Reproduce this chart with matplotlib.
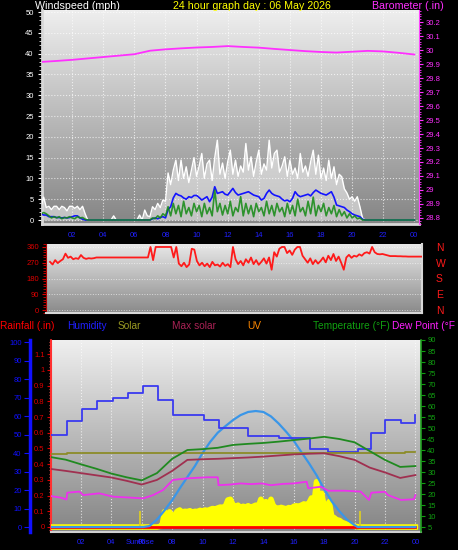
import numpy as np
import matplotlib
matplotlib.use("Agg")
import matplotlib.pyplot as plt
import matplotlib.ticker as ticker
from matplotlib.colors import LinearSegmentedColormap

plt.rcParams['font.family'] = ['Liberation Sans', 'DejaVu Sans']

# ---------------- data ----------------
hour_ticks = list(range(2, 25, 2))
hour_labels = ['02', '04', '06', '08', '10', '12', '14', '16', '18', '20', '22', '00']

# wind, 10 minute readings (mph)
gust = [3.3, 5.5, 3.0, 3.3, 2.5, 3.3,
        3.3, 2.5, 3.3, 3.0, 2.2, 3.3,
        3.3, 2.8, 3.3, 2.5, 3.3, 1.5,
        0, 0, 0, 0, 0, 0,
        0, 0, 0, 0, 1.0, 0,
        0, 0, 0, 0, 0, 0,
        0, 0, 1.2, 0, 2.4, 1.0,
        0.8, 3.2, 2.5, 4.0, 3.0, 4.8,
        4.5, 11.3, 8.5, 12.0, 14.4, 9.5,
        14.4, 10.0, 12.8, 9.0, 12.0, 15.0,
        10.5, 13.0, 16.0, 10.0, 13.5, 14.4,
        9.5, 15.0, 19.2, 11.0, 13.7, 10.0,
        14.0, 16.8, 11.0, 14.4, 10.5, 13.0,
        11.5, 18.4, 12.0, 15.2, 10.5, 14.0,
        16.8, 11.0, 13.5, 12.0, 19.2, 12.5,
        16.0, 16.8, 11.5, 13.0, 15.2, 10.5,
        14.4, 11.0, 12.5, 10.0, 16.0, 11.5,
        13.0, 10.5, 14.0, 16.8, 11.0, 15.6,
        10.0, 12.5, 9.5, 14.4, 10.0, 12.8,
        8.5, 11.0, 10.4, 7.5, 6.5, 5.0,
        5.6, 4.5, 5.6, 3.2, 0.5, 0,
        0, 0, 0, 0, 0, 0,
        0, 0, 0, 0, 0, 0,
        0, 0, 0, 0, 0, 0,
        0]
speed = [1.5, 1.8, 1.5, 1.0, 0.5, 0.8,
         0.5, 0.8, 0.3, 0.6, 0.5, 0.8,
         0.5, 0.3, 0.8, 0.5, 0.6, 0.2,
         0, 0, 0, 0, 0, 0,
         0, 0, 0, 0, 0, 0,
         0, 0, 0, 0, 0, 0,
         0, 0, 0, 0, 0, 0,
         0, 0.5, 0.3, 1.0, 0.5, 1.5,
         1.0, 3.2, 1.0, 4.0, 1.5, 3.5,
         0.8, 4.5, 1.5, 3.0, 1.0, 4.0,
         2.0, 3.5, 0.8, 4.0, 1.5, 3.0,
         1.0, 7.2, 2.0, 4.0, 1.2, 3.5,
         1.5, 4.5, 1.0, 3.0, 2.0, 5.6,
         1.0, 4.0, 1.5, 3.5, 0.8, 4.0,
         2.0, 3.0, 1.0, 4.5, 1.5, 3.5,
         1.0, 4.0, 2.0, 3.0, 0.8, 4.0,
         1.5, 3.5, 1.0, 5.0, 2.0, 3.0,
         1.0, 4.5, 1.5, 5.5, 1.0, 3.5,
         2.0, 4.0, 1.0, 3.0, 1.5, 3.5,
         0.8, 2.5, 1.0, 2.0, 0.5, 1.5,
         0.5, 1.0, 0.3, 0.5, 0, 0,
         0, 0, 0, 0, 0, 0,
         0, 0, 0, 0, 0, 0,
         0, 0, 0, 0, 0, 0,
         0]
avg = [1.5, 1.2, 1.2, 0.8, 0.8, 0.8,
       0.6, 0.6, 0.5, 0.6, 0.5, 0.6,
       0.8, 1.0, 1.0, 0.5, 0.2, 0,
       0, 0, 0, 0, 0, 0,
       0, 0, 0, 0, 0, 0,
       0, 0, 0, 0, 0, 0,
       0, 0, 0, 0, 0, 0,
       0, 0.3, 0.5, 0.3, 0.6, 0.8,
       0.5, 2.5, 3.2, 5.3, 6.4, 6.0,
       5.8, 5.3, 5.0, 5.6, 5.4, 5.9,
       5.9, 5.4, 4.8, 5.2, 5.6, 4.4,
       5.5, 8.0, 6.4, 6.6, 6.8, 6.2,
       6.0, 6.8, 7.6, 6.6, 6.0, 6.2,
       6.4, 6.6, 6.8, 6.4, 6.0, 5.8,
       5.6, 4.8, 5.2, 6.4, 7.2, 6.4,
       6.0, 5.8, 5.6, 5.0, 4.6, 4.8,
       4.4, 5.2, 6.8, 6.0, 5.6, 5.8,
       6.0, 6.2, 5.8, 6.6, 7.2, 6.8,
       6.4, 6.2, 6.0, 6.4, 6.8, 5.5,
       3.6, 3.4, 3.2, 3.0, 2.4, 2.0,
       1.5, 1.2, 1.0, 0.8, 0.2, 0,
       0, 0, 0, 0, 0, 0,
       0, 0, 0, 0, 0, 0,
       0, 0, 0, 0, 0, 0,
       0]

# barometer, hourly (inHg)
baro = [29.915, 29.922, 29.930, 29.940, 29.950, 29.960, 29.970, 29.995,
        30.005, 30.012, 30.018, 30.022, 30.028, 30.022, 30.017, 30.008,
        30.000, 29.992, 29.986, 29.982, 29.988, 29.994, 29.990, 29.980, 29.968]

# wind direction, 10 minute readings (degrees)
wdir = [275, 260, 285, 268, 280, 290,
        322, 298, 305, 290, 296, 292,
        314, 298, 292, 296, 294, 296,
        300, 300, 300, 300, 300, 300,
        300, 300, 300, 300, 300, 300,
        300, 300, 300, 300, 300, 300,
        300, 300, 300, 360, 285, 360,
        360, 360, 360, 360, 360, 360,
        300, 360, 265, 250, 270, 245,
        260, 350, 345, 280, 255, 270,
        250, 265, 245, 275, 255, 260,
        248, 270, 252, 262, 245, 360,
        290, 262, 280, 255, 290, 270,
        300, 262, 285, 258, 275, 295,
        265, 300, 230, 330, 305, 350,
        360, 360, 325, 340, 315, 345,
        360, 360, 310, 290, 270, 295,
        262, 285, 265, 280, 300, 272,
        310, 285, 320, 280, 305, 270,
        230, 300, 315, 298, 310, 305,
        318, 310, 325, 330, 322, 360,
        330, 320, 318, 320, 316, 312,
        308, 308, 308, 307, 307, 306,
        306, 305, 305, 305, 305, 305,
        305]

# humidity (%), step changes
t_hum = [0, 1.05, 2.05, 3.05, 4.1, 5.1, 6.05, 7.1, 8.05, 10.1, 11.05, 13.0,
         15.0, 17.05, 18.25, 20.2, 21.1, 22.0, 23.05, 24.0]
hum = [50, 57.5, 64, 68, 69.5, 72.5, 76, 68.5, 60.5, 58, 53.5, 49.2,
       47.9, 42, 40.7, 42, 50.6, 58, 56.4, 60.5]

# hourly temperatures (F)
temp = [36.8, 35.6, 33.5, 31.5, 29.3, 27.6, 26.2, 29.5, 36.0, 40.0, 40.4, 41.0,
        42.3, 42.8, 43.2, 43.8, 44.5, 45.2, 46.0, 45.0, 43.5, 39.5, 35.5, 32.3, 32.7]
temp2 = [31.4, 30.5, 29.5, 28.5, 27.5, 26.0, 24.3, 26.4, 30.5, 35.5, 35.8, 36.0,
         36.3, 36.6, 37.0, 37.5, 38.0, 38.3, 38.5, 37.2, 35.5, 32.0, 29.8, 27.3, 28.6]

t_dew = [0, 0.7, 1.05, 1.1, 1.9, 2.15, 3.2, 4.1, 5.4, 6.1, 6.75, 7.4, 8.05, 8.95,
         10.3, 11.0, 11.05, 11.8, 12.5, 13.2, 13.9, 14.5, 15.3, 16.0, 16.85, 16.95,
         17.8, 18.25, 19.35, 20.4, 20.95, 21.1, 22.0, 22.2, 23.05, 23.9, 24.0]
dew = [19.1, 18.3, 17.5, 20.6, 21.1, 19.5, 20.3, 18.8, 18.3, 18.0, 19.5, 21.8, 26.4, 27.1,
       27.6, 27.6, 24.0, 24.3, 24.8, 24.5, 24.8, 24.0, 24.6, 24.8, 25.6, 22.6,
       23.3, 21.5, 21.5, 21.1, 17.3, 20.6, 21.0, 19.5, 17.3, 17.6, 19.5]

t_olive = [0, 1.1, 23.35, 24.0]
olive = [38.0, 38.5, 38.9, 38.9]

# solar (W/m2)
t_maxsol = [0, 6.1, 6.5, 7.0, 7.5, 8.0, 8.5, 9.0, 9.5, 10.0, 10.5, 11.0, 11.5, 12.0,
            12.5, 13.0, 13.5, 14.0, 14.5, 15.0, 15.5, 16.0, 16.5, 17.0, 17.5, 18.0,
            18.5, 19.0, 19.5, 20.0, 20.2, 24]
maxsol = [0, 0, 5, 40, 90, 145, 209, 270, 330, 400, 460, 510, 545, 578,
          605, 622, 627, 622, 598, 560, 515, 466, 405, 345, 280, 205,
          138, 85, 40, 10, 0, 0]

solar = [0, 3, 8, 83, 20, 82,
         45, 65, 85, 92, 80, 85,
         83, 88, 80, 85, 83, 90,
         86, 92, 88, 95, 100, 97,
         103, 108, 105, 112, 146, 150,
         120, 110, 118, 104, 112, 108,
         115, 106, 112, 118, 110, 150,
         122, 137, 108, 150, 112, 104,
         100, 106, 102, 98, 105, 100,
         112, 115, 110, 118, 125, 120,
         130, 157, 128, 245, 119, 182,
         113, 108, 137, 56, 50, 38,
         36, 25, 20, 15, 11, 8,
         3, 2, 0]
sun_times = [5.88, 20.35]
sun_mark = 85

t_rain = [0, 24]
rain = [0, 0]

# ---------------- helpers ----------------
W, H = 458, 550


def px(x0, y0, x1, y1):
    return [x0 / W, 1 - y1 / H, (x1 - x0) / W, (y1 - y0) / H]


def bg(ax, top, bottom):
    cmap = LinearSegmentedColormap.from_list('bg', [top, bottom])
    ax.imshow(np.linspace(0, 1, 256).reshape(-1, 1), cmap=cmap, aspect='auto',
              extent=(0, 1, 0, 1), transform=ax.transAxes, zorder=0)


def hide(ax):
    for s in ax.spines.values():
        s.set_visible(False)
    ax.set_yticks([])


fig = plt.figure(figsize=(W / 100, H / 100), dpi=100, facecolor='black')

# ---------------- wind / barometer ----------------
ax1 = fig.add_axes(px(42, 10, 419, 224))
bg(ax1, '#efefef', '#858585')
t_wind = np.arange(len(gust)) / 6
ax1.fill_between(t_wind, 0, gust, color='white', alpha=0.5, lw=0, zorder=2)
ax1.plot(t_wind, gust, color='white', lw=1.0, zorder=3)
ax1.plot(t_wind, avg, color='#1414ff', lw=1.2, zorder=4)
ax1.plot(t_wind, speed, color='#138a13', lw=1.2, alpha=0.85, zorder=5)
ax1.set_xlim(0.06, 24.3)
ax1.set_ylim(-0.96, 50.5)
ax1.yaxis.set_major_locator(ticker.MultipleLocator(5))
ax1.yaxis.set_minor_locator(ticker.MultipleLocator(1))
ax1.tick_params(axis='y', which='major', colors='white', labelsize=5.5, length=3, width=0.8, pad=3)
ax1.tick_params(axis='y', which='minor', colors='#cccccc', length=2, width=0.7)
ax1.set_xticks(hour_ticks)
ax1.set_xticklabels(hour_labels)
ax1.tick_params(axis='x', colors='#2020ff', labelsize=5.5, length=0, pad=6)
ax1.grid(True, which='major', color='white', ls=':', lw=0.8, alpha=0.7)
for side in ['top', 'right']:
    ax1.spines[side].set_visible(False)
for side in ['left', 'bottom']:
    ax1.spines[side].set_color('#d8d8d8')
    ax1.spines[side].set_linewidth(2)

ax1b = ax1.twinx()
ax1b.plot(np.arange(len(baro)), baro, color='#ff30ff', lw=1.3)
ax1b.set_ylim(28.757, 30.286)
ax1b.yaxis.set_major_locator(ticker.MultipleLocator(0.1))
ax1b.yaxis.set_minor_locator(ticker.MultipleLocator(0.02))
ax1b.yaxis.set_major_formatter(ticker.FuncFormatter(lambda v, p: f'{v:.1f}'.rstrip('0').rstrip('.')))
ax1b.tick_params(which='major', colors='#ff30ff', labelsize=5.5, length=3, pad=2)
ax1b.tick_params(which='minor', colors='#ff30ff', length=1.5)
for side in ['top', 'left', 'bottom']:
    ax1b.spines[side].set_visible(False)
ax1b.spines['right'].set_color('#ff40ff')
ax1b.spines['right'].set_linestyle((0, (2, 1)))

# ---------------- wind direction ----------------
ax2 = fig.add_axes(px(46, 244, 422, 313))
bg(ax2, '#e8e8e8', '#8a8a8a')
t_dir = np.arange(len(wdir)) / 6
ax2.plot(t_dir, wdir, color='#ff1a1a', lw=1.3, zorder=3)
ax2.set_xlim(-0.26, 24.06)
ax2.set_ylim(-17, 377)
ax2.set_xticks([])
ax2.set_yticks([0, 90, 180, 270, 360])
ax2.yaxis.set_minor_locator(ticker.MultipleLocator(15))
ax2.tick_params(axis='y', which='major', colors='#dd0000', labelsize=5.5, length=3, pad=2)
ax2.tick_params(axis='y', which='minor', colors='#dd0000', length=2)
ax2.grid(True, axis='y', color='white', ls=':', lw=0.7, alpha=0.6)
ax2.spines['top'].set_visible(False)
ax2.spines['left'].set_color('#aa0000')
ax2.spines['left'].set_linestyle((0, (1, 1)))
for side in ['right', 'bottom']:
    ax2.spines[side].set_color('#d8d8d8')
    ax2.spines[side].set_linewidth(1.5)

ax2c = ax2.twinx()
ax2c.set_ylim(-17, 377)
ax2c.set_yticks([0, 90, 180, 270, 360])
ax2c.set_yticklabels(['N', 'E', 'S', 'W', 'N'])
ax2c.tick_params(axis='y', colors='#ff1a1a', labelsize=7.5, length=0, pad=10)
for s in ax2c.spines.values():
    s.set_visible(False)

# ---------------- rain / humidity / solar / temperature ----------------
ax3 = fig.add_axes(px(51, 340, 421, 532))
bg(ax3, '#efefef', '#858585')
ax3.set_xlim(0.03, 24.37)
ax3.set_ylim(-0.032, 1.191)
ax3.yaxis.set_major_locator(ticker.MultipleLocator(0.1))
ax3.yaxis.set_minor_locator(ticker.MultipleLocator(0.02))
ax3.yaxis.set_major_formatter(ticker.FuncFormatter(lambda v, p: f'{v:.1f}'.rstrip('0').rstrip('.')))
ax3.tick_params(axis='y', which='major', colors='#dd0000', labelsize=5.5, length=3, pad=1.5)
ax3.tick_params(axis='y', which='minor', colors='#ff6060', length=1.5)
ax3.set_xticks(hour_ticks)
ax3.set_xticklabels(hour_labels)
ax3.tick_params(axis='x', colors='#2020ff', labelsize=5.5, length=0, pad=5)
ax3.grid(True, axis='x', color='white', ls=':', lw=0.8, alpha=0.7)
ax3.text(sun_times[0], -0.036, 'SunRise', transform=ax3.get_xaxis_transform(),
         ha='center', va='top', color='#2020ff', fontsize=5.5)
ax3.spines['top'].set_visible(False)
ax3.spines['right'].set_visible(False)
ax3.spines['left'].set_color('#ff3030')
ax3.spines['left'].set_linestyle((0, (2, 1)))
ax3.spines['left'].set_linewidth(1.5)
ax3.spines['bottom'].set_color('#d0d0d0')
ax3.spines['bottom'].set_linewidth(1.5)

ax_s = ax3.twinx()
t_sol = np.concatenate([[0], np.arange(42, 42 + len(solar)) / 6, [24]])
v_sol = np.concatenate([[0], solar, [0]])
ax_s.fill_between(t_sol, 0, v_sol, color='#ffff00', lw=0)
ax_s.plot(t_sol, v_sol, color='#ffff00', lw=4)
ax_s.vlines(sun_times, 0, sun_mark, color='#e0d020', lw=1.2)
ax_s.set_ylim(-27, 1011)
hide(ax_s)

ax_r = ax3.twinx()
ax_r.plot(t_rain, rain, color='#ff0000', lw=2)
ax_r.set_ylim(-0.032, 1.191)
hide(ax_r)

ax_m = ax3.twinx()
ax_m.plot(t_maxsol, maxsol, color='#3a96e8', lw=1.6)
ax_m.set_ylim(-27, 1011)
hide(ax_m)

ax_h = ax3.twinx()
ax_h.step(t_hum, hum, where='post', color='#3a3af0', lw=1.3)
ax_h.set_ylim(-2.7, 101.1)
for s in ax_h.spines.values():
    s.set_visible(False)
ax_h.spines['left'].set_visible(True)
ax_h.spines['left'].set_position(('axes', (30 - 51) / 370))
ax_h.spines['left'].set_color('#1010ff')
ax_h.spines['left'].set_linewidth(2.5)
ax_h.yaxis.set_ticks_position('left')
ax_h.yaxis.set_major_locator(ticker.MultipleLocator(10))
ax_h.tick_params(axis='y', colors='#1010ff', labelsize=5.5, length=4, pad=2)

ax_t = ax3.twinx()
ax_t.plot(t_olive, olive, color='#8c8c28', lw=1.3, drawstyle='steps-post')
hours = np.arange(len(temp))
ax_t.plot(hours, temp2, color='#a03050', lw=1.3)
ax_t.plot(hours, temp, color='#208a20', lw=1.3)
ax_t.plot(t_dew, dew, color='#ee30ee', lw=1.3)
ax_t.set_ylim(2.73, 90)
ax_t.yaxis.set_major_locator(ticker.MultipleLocator(5))
ax_t.yaxis.set_minor_locator(ticker.FixedLocator([10, 25, 40, 55, 70, 85]))
ax_t.tick_params(axis='y', which='major', colors='#10a010', labelsize=5.5, length=3, pad=1.5)
ax_t.tick_params(axis='y', which='minor', length=0)
ax_t.grid(True, which='minor', axis='y', color='white', ls=':', lw=0.8, alpha=0.6)
for side in ['top', 'left', 'bottom']:
    ax_t.spines[side].set_visible(False)
ax_t.spines['right'].set_color('#20a020')
ax_t.spines['right'].set_linestyle((0, (2, 1)))
ax_t.spines['right'].set_linewidth(1.2)

# ---------------- titles and legend row ----------------
def label(x, y, s, c, size):
    fig.text(x / W, 1 - y / H, s, color=c, fontsize=size, ha='left', va='center')


label(35, 6, 'Windspeed (mph)', 'white', 7.7)
label(173, 6, '24 hour graph day : 06 May 2026', '#ffff00', 7.7)
label(372, 6, 'Barometer (.in)', '#ff30ff', 7.7)

label(0, 326, 'Rainfall (.in)', '#ff0000', 7.3)
label(67, 326, 'Humidity', '#2020ff', 7.3)
label(118, 326, 'Solar', '#999922', 7.3)
label(172, 326, 'Max solar', '#aa2255', 7.3)
label(247, 326, 'UV', '#ff8800', 7.3)
label(313, 326, 'Temperature (°F)', '#10a010', 7.3)
label(392, 326, 'Dew Point (°F', '#ff20ff', 7.3)

fig.savefig('out.png', dpi=100, facecolor='black')
